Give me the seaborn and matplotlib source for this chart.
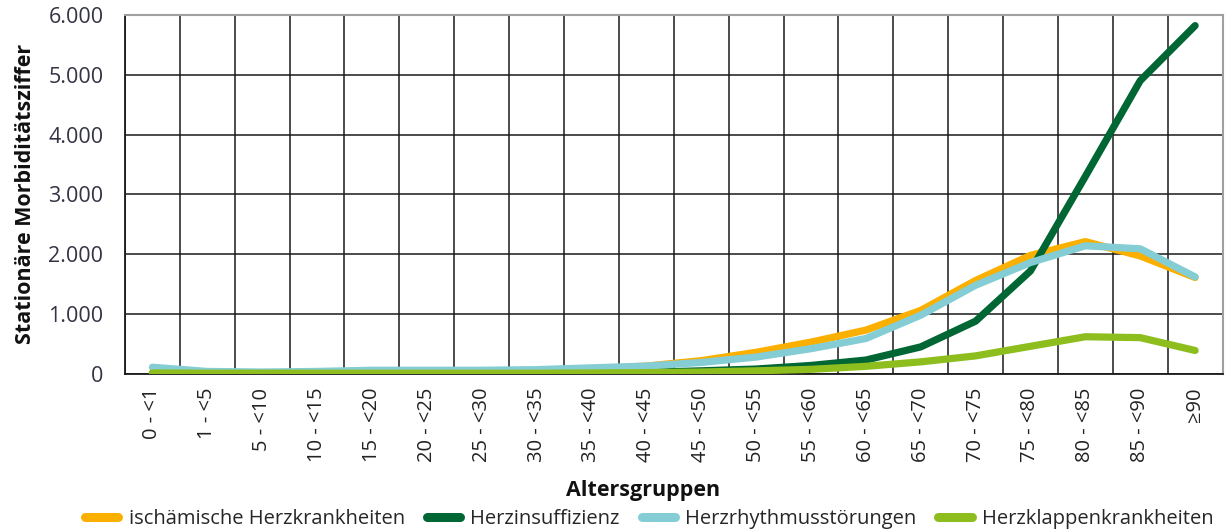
import numpy as np
import pandas as pd
import matplotlib
matplotlib.use("Agg")
import matplotlib.pyplot as plt
import seaborn as sns

AGE_GROUPS = ["0 - <1", "1 - <5", "5 - <10", "10 - <15", "15 - <20", "20 - <25", "25 - <30",
              "30 - <35", "35 - <40", "40 - <45", "45 - <50", "50 - <55", "55 - <60", "60 - <65",
              "65 - <70", "70 - <75", "75 - <80", "80 - <85", "85 - <90", "≥90"]
SERIES = ["ischämische Herzkrankheiten", "Herzinsuffizienz", "Herzrhythmusstörungen",
          "Herzklappenkrankheiten"]
ISCH = [5, 2, 2, 3, 5, 10, 20, 40, 80, 130, 220, 360, 530, 730, 1060, 1560, 1980, 2210, 1970, 1610]
INSUFF = [10, 2, 2, 2, 3, 4, 6, 8, 15, 25, 50, 80, 140, 230, 450, 880, 1720, 3300, 4900, 5820]
RHYTHM = [110, 40, 30, 40, 60, 60, 60, 70, 100, 130, 190, 280, 420, 590, 980, 1480, 1860, 2140, 2090, 1620]
KLAPPEN = [15, 10, 10, 10, 10, 10, 10, 10, 15, 20, 30, 50, 75, 125, 200, 300, 460, 620, 605, 390]
COLORS = ["#FBB000", "#006633", "#84CDD4", "#8DBE1E"]

df = pd.concat([
    pd.DataFrame({"age": AGE_GROUPS, "value": vals, "series": name})
    for name, vals in zip(SERIES, [ISCH, INSUFF, RHYTHM, KLAPPEN])
])

sns.set_style("white")
plt.rcParams["font.family"] = ["Open Sans", "DejaVu Sans"]

fig = plt.figure(figsize=(12.25, 5.31), dpi=100)
ax = fig.add_axes([0.102, 0.296, 0.896, 0.676])

for i, (name, col) in enumerate(zip(SERIES, COLORS)):
    sub = df[df["series"] == name]
    sns.lineplot(data=sub, x="age", y="value", color=col, lw=5.2, ax=ax,
                 label=name, zorder=3 + i, sort=False)
ax.get_legend().remove()

n = len(AGE_GROUPS)
ax.set_xlim(-0.5, n - 0.5)
ax.set_ylim(0, 6000)
ax.set_xticks(np.arange(-0.5, n, 1))
ax.set_xticklabels([])
ax.set_xticks(np.arange(n), minor=True)
ax.set_xticklabels(AGE_GROUPS, minor=True, rotation=90, fontsize=14.5, color="#222222")
ax.tick_params(axis="x", which="major", length=5, width=1.2, color="#222222", direction="out")
ax.tick_params(axis="x", which="minor", length=0, pad=10)
ax.set_yticks(np.arange(0, 6001, 1000))
ax.set_yticklabels([f"{v:,}".replace(",", ".") for v in range(0, 6001, 1000)],
                   fontsize=15.5, color="#333344")
ax.tick_params(axis="y", length=5, width=1.2, color="#222222", direction="out", pad=10.5)

ax.grid(True, which="major", color="#1a1a1a", lw=1.1)
ax.set_axisbelow(True)
for s in ["left", "bottom"]:
    ax.spines[s].set_color("#1a1a1a")
    ax.spines[s].set_linewidth(1.3)
for s in ["top", "right"]:
    ax.spines[s].set_color("#a0a0a0")
    ax.spines[s].set_linewidth(1.5)

ax.set_xlabel("Altersgruppen", fontsize=15.5, fontweight="bold", color="#111111")
ax.xaxis.set_label_coords(0.472, -0.295)
ax.set_ylabel("Stationäre Morbiditätsziffer", fontsize=15.5, fontweight="bold", color="#111111")
ax.yaxis.set_label_coords(-0.081, 0.5)

handles = [plt.Line2D([0], [0], color=c, lw=6.5, solid_capstyle="round") for c in COLORS]
fig.legend(handles, SERIES, loc="lower center", ncol=4, bbox_to_anchor=(0.53, -0.03),
           frameon=False, fontsize=14.5, handlelength=1.65, handletextpad=0.5,
           columnspacing=1.1)

fig.savefig("out.png", dpi=100)
